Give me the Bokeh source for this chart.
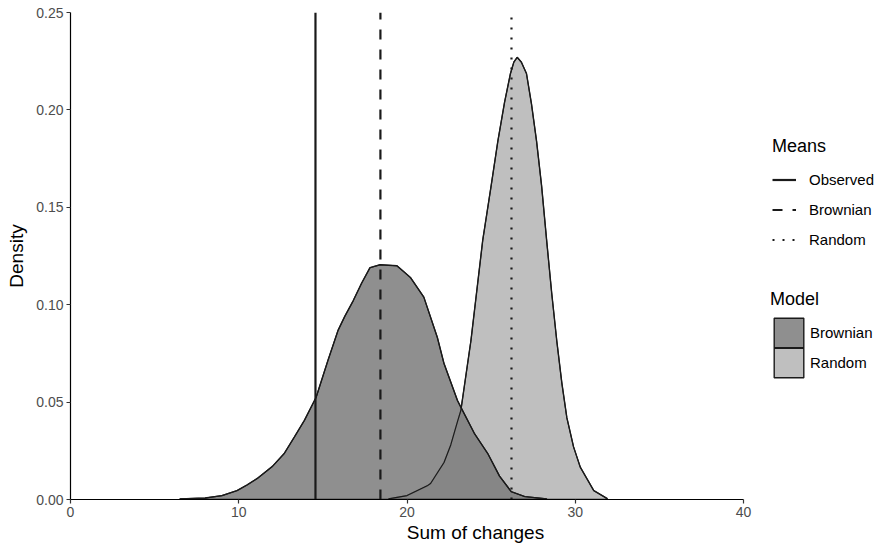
from bokeh.plotting import figure
from bokeh.models import Range1d, FixedTicker, PrintfTickFormatter, Legend, LegendItem
from bokeh.embed import file_html
from bokeh.resources import INLINE

# ---- data ----
brownian_x = [6.5, 8.0, 9.0, 9.9, 10.5, 11.1, 12.0, 12.7, 13.3, 13.9, 14.6, 15.3, 15.9, 16.3,
              16.8, 17.3, 17.8, 18.4, 19.4, 19.8, 20.2, 21.0, 21.8, 22.2, 23.0, 23.2, 24.0,
              24.8, 25.5, 26.2, 27.0, 28.3]
brownian_y = [0.0003, 0.0008, 0.002, 0.0046, 0.0075, 0.0108, 0.017, 0.0236, 0.032, 0.0406,
              0.0525, 0.0714, 0.0868, 0.094, 0.102, 0.111, 0.119, 0.1205, 0.1200, 0.117,
              0.114, 0.1039, 0.0833, 0.0698, 0.0508, 0.0474, 0.034, 0.0236, 0.012, 0.004,
              0.0015, 0.0003]

random_x = [18.9, 20.0, 21.2, 21.4, 22.2, 22.6, 23.0, 23.2, 23.8, 24.5, 25.0, 25.4, 25.8,
            26.15, 26.35, 26.55, 26.8, 27.1, 27.4, 27.7, 28.0, 28.3, 28.6, 28.9, 29.2, 29.5,
            29.9, 30.3, 31.1, 31.9]
random_y = [0.0003, 0.002, 0.007, 0.0082, 0.019, 0.028, 0.040, 0.0457, 0.0816, 0.133, 0.161,
            0.184, 0.204, 0.2187, 0.2245, 0.227, 0.2245, 0.2187, 0.203, 0.184, 0.161, 0.133,
            0.106, 0.0816, 0.060, 0.042, 0.027, 0.0166, 0.0046, 0.0005]

mean_labels = ["Observed", "Brownian", "Random"]
mean_values = [14.56, 18.42, 26.21]
mean_dashes = ["solid", "10 10", "2 8"]

model_labels = ["Brownian", "Random"]

x_ticks = [0, 10, 20, 30, 40]
y_ticks = [0.0, 0.05, 0.10, 0.15, 0.20, 0.25]
X_MIN, X_MAX = 0, 40
Y_MIN, Y_MAX = 0.0, 0.25

FONT = "Liberation Sans"

W, H = 880, 550
LEFT, TOP, BOTTOM = 70, 12, 51
DATA_W = 673                      # pixels spanned by X_MIN..X_MAX
frame_w = W - LEFT
x_end = X_MIN + (X_MAX - X_MIN) * frame_w / DATA_W   # empty room on the right for legends

p = figure(width=W, height=H, output_backend="svg", toolbar_location=None,
           x_range=Range1d(X_MIN, x_end), y_range=Range1d(Y_MIN, Y_MAX),
           min_border_left=LEFT, min_border_right=0, min_border_top=TOP,
           min_border_bottom=BOTTOM)
p.outline_line_color = None
p.xgrid.visible = False
p.ygrid.visible = False

# density areas (closed along the baseline)
r_px = [random_x[0]] + random_x + [random_x[-1]]
r_py = [0.0] + random_y + [0.0]
b_px = [brownian_x[0]] + brownian_x + [brownian_x[-1]]
b_py = [0.0] + brownian_y + [0.0]

rand_patch = p.patch(r_px, r_py, fill_color="#bfbfbf", fill_alpha=1.0,
                     line_color="#1a1a1a", line_width=1.4)
brown_patch = p.patch(b_px, b_py, fill_color="#7b7b7b", fill_alpha=0.85,
                      line_color="#1a1a1a", line_width=1.4)
# outlines on top
p.line(random_x, random_y, line_color="#1a1a1a", line_width=1.1)
p.line(brownian_x, brownian_y, line_color="#1a1a1a", line_width=1.1)

# mean lines
mean_renderers = []
for val, dash in zip(mean_values, mean_dashes):
    r = p.segment(x0=[val], y0=[Y_MIN], x1=[val], y1=[Y_MAX],
                  line_color="#1a1a1a", line_width=2.2, line_dash=dash)
    mean_renderers.append(r)

# axes
for ax in (p.xaxis[0], p.yaxis[0]):
    ax.axis_line_color = "#000000"
    ax.axis_line_width = 1.2
    ax.major_tick_line_color = "#333333"
    ax.major_tick_line_width = 1.2
    ax.major_tick_out = 4
    ax.major_tick_in = 0
    ax.minor_tick_line_color = None
    ax.major_label_text_font = FONT
    ax.major_label_text_font_size = "14px"
    ax.major_label_text_color = "#4d4d4d"
    ax.axis_label_text_font = FONT
    ax.axis_label_text_font_size = "19px"
    ax.axis_label_text_font_style = "normal"
    ax.axis_label_text_color = "#000000"
    ax.major_label_standoff = 3

p.xaxis.axis_label_standoff = 2
p.yaxis.axis_label_standoff = 6
p.xaxis.bounds = (X_MIN, X_MAX)
p.xaxis.ticker = FixedTicker(ticks=x_ticks)
p.yaxis.ticker = FixedTicker(ticks=y_ticks)
p.yaxis.formatter = PrintfTickFormatter(format="%.2f")
p.xaxis.axis_label = "Sum of changes"
p.yaxis.axis_label = "Density"

def style_legend(lg, gw, gh, standoff, title_standoff):
    lg.title_text_font = FONT
    lg.title_text_font_size = "18px"
    lg.title_text_font_style = "normal"
    lg.title_text_color = "#000000"
    lg.title_standoff = title_standoff
    lg.label_text_font = FONT
    lg.label_text_font_size = "15px"
    lg.label_text_color = "#000000"
    lg.label_standoff = standoff
    lg.glyph_width = gw
    lg.glyph_height = gh
    lg.label_height = gh
    lg.spacing = 1
    lg.padding = 0
    lg.margin = 0
    lg.border_line_color = None
    lg.background_fill_alpha = 0

means_legend = Legend(items=[LegendItem(label=l, renderers=[r])
                             for l, r in zip(mean_labels, mean_renderers)],
                      title="Means", location=(702, 245))
style_legend(means_legend, 24, 29, 13, 8)
p.add_layout(means_legend, "center")

# "Model" key: one legend per entry so the two boxes can sit edge to edge
model_legend_a = Legend(items=[LegendItem(label=model_labels[0], renderers=[brown_patch])],
                        title="Model", location=(700, 148))
style_legend(model_legend_a, 37, 37, 3, 4)
p.add_layout(model_legend_a, "center")

model_legend_b = Legend(items=[LegendItem(label=model_labels[1], renderers=[rand_patch])],
                        location=(700, 118))
style_legend(model_legend_b, 37, 37, 3, 4)
p.add_layout(model_legend_b, "center")

open("out.html", "w").write(file_html(p, INLINE))
